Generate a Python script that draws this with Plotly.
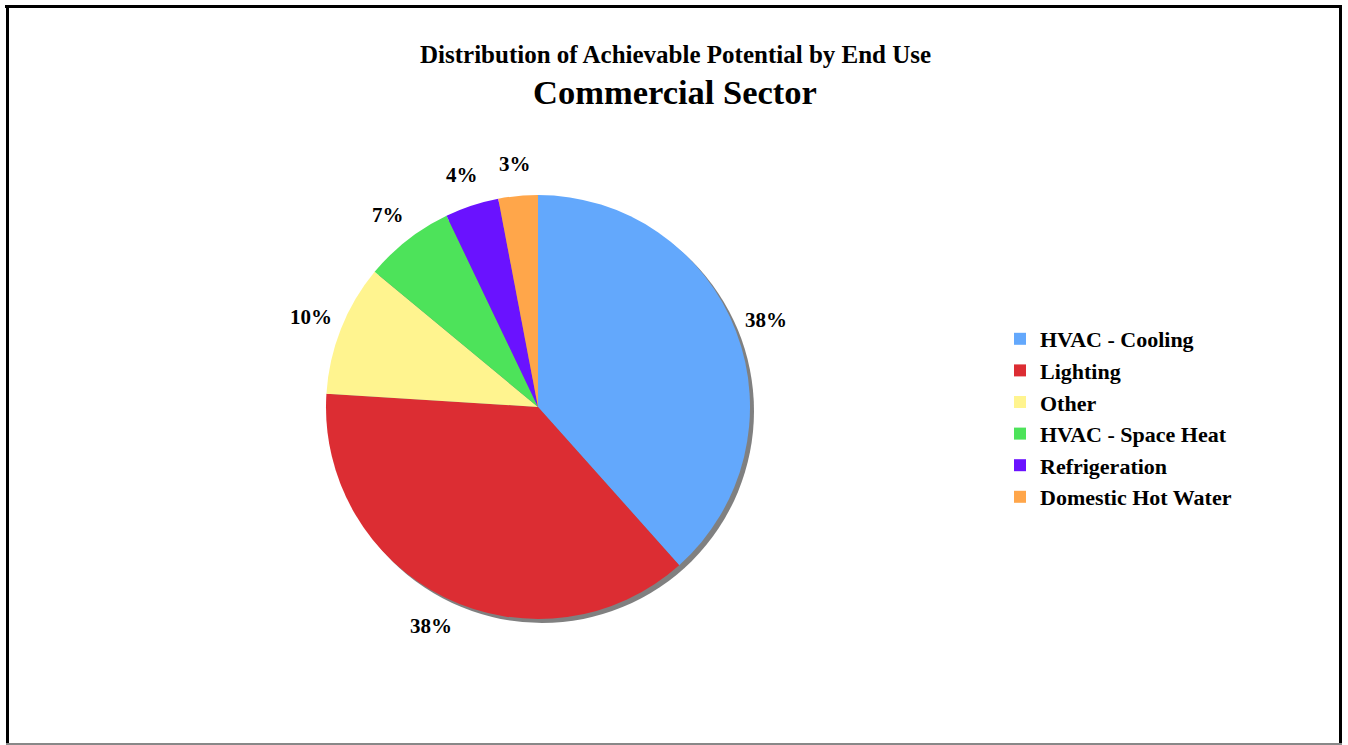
import math
import plotly.graph_objects as go

# Share of achievable potential by end use (commercial sector), in percent
end_uses = ["HVAC - Cooling", "Lighting", "Other", "HVAC - Space Heat",
            "Refrigeration", "Domestic Hot Water"]
shares = [38.4, 37.6, 10.0, 6.9, 4.1, 3.0]
slice_colors = ["#63A8FC", "#DC2D33", "#FFF48F", "#4DE35A", "#6A12FF", "#FFA64A"]

W, H = 1348, 745
SERIF = "Liberation Serif, Times New Roman, serif"

# pie geometry in pixels
cx, cy, r = 538, 407, 212
shadow_dx, shadow_dy = 4, 4
label_r = 244


def px_domain(x0, y0, size):
    return dict(x=[x0 / W, (x0 + size) / W],
                y=[1 - (y0 + size) / H, 1 - y0 / H])


fig = go.Figure()

# drop shadow behind the pie
fig.add_trace(go.Pie(
    values=[1], labels=["shadow"], marker=dict(colors=["#808080"], line=dict(width=0)),
    domain=px_domain(cx - r + shadow_dx, cy - r + shadow_dy, 2 * r),
    textinfo="none", hoverinfo="skip", showlegend=False, sort=False,
))

fig.add_trace(go.Pie(
    values=shares, labels=end_uses,
    marker=dict(colors=slice_colors, line=dict(width=0)),
    domain=px_domain(cx - r, cy - r, 2 * r),
    sort=False, direction="clockwise", rotation=0,
    textinfo="none", hoverinfo="label+percent",
))

# percentage labels placed radially outside each slice
total = sum(shares)
annotations = []
cum = 0.0
for v in shares:
    mid = (cum + v / 2) / total * 2 * math.pi
    cum += v
    lx = cx + label_r * math.sin(mid)
    ly = cy - label_r * math.cos(mid)
    annotations.append(dict(
        x=lx / W, y=1 - ly / H, xref="paper", yref="paper",
        text=f"<b>{round(v / total * 100)}%</b>", showarrow=False,
        xanchor="center", yanchor="middle",
        font=dict(family=SERIF, size=21, color="black"),
    ))

annotations.append(dict(
    x=675 / W, y=1 - 54 / H, xref="paper", yref="paper",
    text="<b>Distribution of Achievable Potential by End Use</b>", showarrow=False,
    xanchor="center", yanchor="middle", font=dict(family=SERIF, size=25, color="black"),
))
annotations.append(dict(
    x=675 / W, y=1 - 92 / H, xref="paper", yref="paper",
    text="<b>Commercial Sector</b>", showarrow=False,
    xanchor="center", yanchor="middle", font=dict(family=SERIF, size=34.5, color="black"),
))

# chart frame
frame = [
    dict(x0=5 / W, x1=1342 / W, y0=1 - 6.5 / H, y1=1 - 6.5 / H, color="black", w=3),
    dict(x0=7.5 / W, x1=7.5 / W, y0=1 - 5 / H, y1=1 - 744 / H, color="black", w=3),
    dict(x0=1340.5 / W, x1=1340.5 / W, y0=1 - 5 / H, y1=1 - 744 / H, color="black", w=3),
    dict(x0=6 / W, x1=1342 / W, y0=1 - 744 / H, y1=1 - 744 / H, color="#888888", w=2),
]
shapes = [dict(type="line", xref="paper", yref="paper",
               x0=f["x0"], x1=f["x1"], y0=f["y0"], y1=f["y1"],
               line=dict(color=f["color"], width=f["w"])) for f in frame]

fig.update_layout(
    width=W, height=H,
    margin=dict(l=0, r=0, t=0, b=0),
    paper_bgcolor="white", plot_bgcolor="white",
    annotations=annotations, shapes=shapes,
    legend=dict(
        x=1000 / W, y=1 - 318 / H, xanchor="left", yanchor="top",
        font=dict(family=SERIF, size=22, color="black", weight="bold"),
        traceorder="normal", bgcolor="rgba(0,0,0,0)",
    ),
    showlegend=True,
)

fig.write_html("out.html")
